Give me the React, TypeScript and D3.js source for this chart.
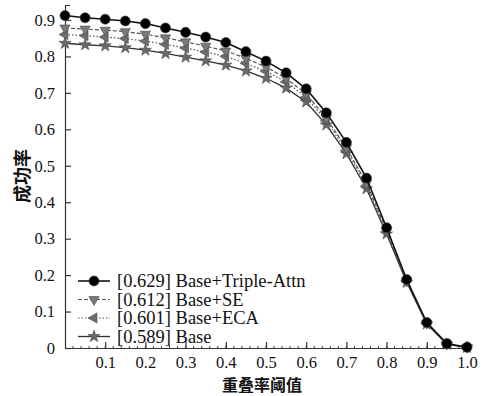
import { useEffect, useRef } from 'react';
import * as d3 from 'd3';

const thresholds = d3.range(0, 1.0001, 0.05);

const tripleAttn = [0.912, 0.906, 0.902, 0.897, 0.89, 0.878, 0.866, 0.853, 0.838, 0.813, 0.787, 0.755, 0.711, 0.645, 0.564, 0.466, 0.33, 0.188, 0.07, 0.012, 0.002];
const baseSE = [0.878, 0.875, 0.872, 0.868, 0.861, 0.851, 0.84, 0.828, 0.815, 0.795, 0.771, 0.74, 0.697, 0.63, 0.549, 0.452, 0.322, 0.184, 0.068, 0.011, 0.002];
const baseECA = [0.86, 0.857, 0.853, 0.849, 0.842, 0.833, 0.823, 0.812, 0.8, 0.781, 0.759, 0.73, 0.688, 0.623, 0.542, 0.445, 0.318, 0.182, 0.067, 0.011, 0.002];
const base = [0.836, 0.832, 0.829, 0.824, 0.817, 0.808, 0.798, 0.788, 0.776, 0.76, 0.74, 0.713, 0.675, 0.612, 0.533, 0.437, 0.313, 0.18, 0.066, 0.01, 0.002];

const legendLabels = ['[0.629] Base+Triple-Attn', '[0.612] Base+SE', '[0.601] Base+ECA', '[0.589] Base'];
const yTicks = [0, 0.1, 0.2, 0.3, 0.4, 0.5, 0.6, 0.7, 0.8, 0.9];
const xTicks = [0.1, 0.2, 0.3, 0.4, 0.5, 0.6, 0.7, 0.8, 0.9, 1.0];

const SERIF = 'Liberation Serif';

export default function App() {
  const svgRef = useRef<SVGSVGElement>(null);

  useEffect(() => {
    if (!svgRef.current) return;
    document.body.style.margin = '0';
    const width = 482;
    const height = 396;
    const margin = { top: 5, left: 65 };
    const innerHeight = 343;

    const svg = d3.select(svgRef.current);
    svg.selectAll('*').remove();
    svg.attr('width', width).attr('height', height);

    const g = svg.append('g').attr('transform', `translate(${margin.left},${margin.top})`);

    const x = d3.scaleLinear().domain([0, 1]).range([0, 402]);
    const y = d3.scaleLinear().domain([0, 0.941]).range([innerHeight, 0]);

    // minor ticks on x
    g.append('g')
      .selectAll('line')
      .data(d3.range(0.02, 1, 0.02))
      .enter()
      .append('line')
      .attr('x1', (d) => x(d))
      .attr('x2', (d) => x(d))
      .attr('y1', innerHeight)
      .attr('y2', innerHeight - 2)
      .attr('stroke', '#444')
      .attr('stroke-width', 1);

    // axes
    const xAxis = g
      .append('g')
      .attr('transform', `translate(0,${innerHeight})`)
      .call(
        d3.axisBottom(x).tickValues(xTicks).tickSize(-6).tickSizeOuter(0).tickPadding(8).tickFormat(d3.format('.1f'))
      );
    const yAxis = g
      .append('g')
      .call(
        d3.axisLeft(y).tickValues(yTicks).tickSize(-6).tickSizeOuter(-5).tickPadding(10)
          .tickFormat((d) => (d === 0 ? '0' : d3.format('.1f')(d as number)))
      );
    [xAxis, yAxis].forEach((a) => {
      a.attr('font-family', SERIF).attr('font-size', 16.5);
      a.selectAll('text').attr('fill', '#111');
      a.selectAll('.domain, .tick line').attr('stroke', '#333').attr('stroke-width', 1.2);
    });

    const seriesList = [
      { values: tripleAttn, dash: null, lineColor: '#111', lineWidth: 1.6, symbol: d3.symbolCircle, size: 80, fill: '#000', rotate: 0 },
      { values: baseSE, dash: '4,2', lineColor: '#555', lineWidth: 1.2, symbol: d3.symbolTriangle, size: 45, fill: '#7a7a7a', rotate: 180 },
      { values: baseECA, dash: '1.5,2', lineColor: '#555', lineWidth: 1.2, symbol: d3.symbolTriangle, size: 45, fill: '#6e6e6e', rotate: -90 },
      { values: base, dash: null, lineColor: '#333', lineWidth: 1.3, symbol: d3.symbolStar, size: 45, fill: '#6a6a6a', rotate: 0 },
    ];

    const line = d3
      .line<number>()
      .x((_, i) => x(thresholds[i]))
      .y((d) => y(d));

    // draw bottom series first
    [...seriesList].reverse().forEach((s) => {
      g.append('path')
        .datum(s.values)
        .attr('d', line)
        .attr('fill', 'none')
        .attr('stroke', s.lineColor)
        .attr('stroke-width', s.lineWidth)
        .attr('stroke-dasharray', s.dash);
      g.append('g')
        .selectAll('path')
        .data(s.values)
        .enter()
        .append('path')
        .attr('d', d3.symbol().type(s.symbol).size(s.size)())
        .attr('transform', (d, i) => `translate(${x(thresholds[i])},${y(d)}) rotate(${s.rotate})`)
        .attr('fill', s.fill)
        .attr('stroke', '#444')
        .attr('stroke-width', 0.6);
    });

    // legend
    const legend = svg.append('g').attr('transform', 'translate(78,281)');
    seriesList.forEach((s, i) => {
      const row = legend.append('g').attr('transform', `translate(0,${i * 18.5})`);
      row.append('line')
        .attr('x1', 0)
        .attr('x2', 32)
        .attr('stroke', s.lineColor)
        .attr('stroke-width', s.lineWidth)
        .attr('stroke-dasharray', s.dash);
      row.append('path')
        .attr('d', d3.symbol().type(s.symbol).size(s.size)())
        .attr('transform', `translate(16,0) rotate(${s.rotate})`)
        .attr('fill', s.fill)
        .attr('stroke', '#444')
        .attr('stroke-width', 0.6);
      row.append('text')
        .attr('x', 39)
        .attr('y', 6)
        .attr('font-family', SERIF)
        .attr('font-size', 18.5)
        .attr('fill', '#111')
        .text(legendLabels[i]);
    });

    // axis titles
    svg.append('text')
      .attr('x', margin.left + x(0.5) - 4)
      .attr('y', 391)
      .attr('text-anchor', 'middle')
      .attr('font-family', 'Noto Sans CJK SC')
      .attr('font-weight', 600)
      .attr('font-size', 16)
      .attr('fill', '#111')
      .text('重叠率阈值');

    svg.append('text')
      .attr('transform', `translate(29,176) rotate(-90)`)
      .attr('text-anchor', 'middle')
      .attr('font-family', 'Noto Sans CJK SC')
      .attr('font-weight', 600)
      .attr('font-size', 18)
      .attr('fill', '#111')
      .text('成功率');
  }, []);

  return <svg ref={svgRef} style={{ display: 'block' }} />;
}
